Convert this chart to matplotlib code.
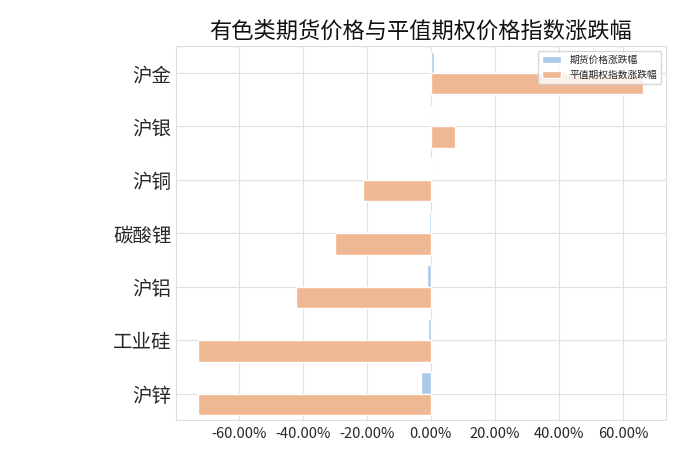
import matplotlib
matplotlib.use("Agg")
import matplotlib.pyplot as plt
import seaborn as sns
import pandas as pd
from matplotlib.ticker import FuncFormatter

categories = ["沪金", "沪银", "沪铜", "碳酸锂", "沪铝", "工业硅", "沪锌"]
futures_change = [0.010, 0.002, -0.003, -0.005, -0.011, -0.008, -0.031]
option_index_change = [0.664, 0.075, -0.211, -0.300, -0.422, -0.727, -0.727]
series_names = ["期货价格涨跌幅", "平值期权指数涨跌幅"]
title = "有色类期货价格与平值期权价格指数涨跌幅"

sns.set_theme(style="whitegrid", palette="pastel")
plt.rcParams["font.family"] = ["Noto Sans CJK SC", "DejaVu Sans"]
plt.rcParams["axes.unicode_minus"] = False

df = pd.DataFrame({
    "品种": categories * 2,
    "涨跌幅": futures_change + option_index_change,
    "类型": [series_names[0]] * len(categories) + [series_names[1]] * len(categories),
})

fig = plt.figure(figsize=(7, 4.67), dpi=100)
ax = fig.add_axes([0.251, 0.10, 0.700, 0.801])
sns.barplot(data=df, y="品种", x="涨跌幅", hue="类型", hue_order=series_names,
            order=categories, orient="h", ax=ax)
ax.set_xlabel("")
ax.set_ylabel("")
ax.xaxis.set_major_formatter(FuncFormatter(lambda v, p: f"{v*100:.2f}%"))
ax.tick_params(axis="y", labelsize=14, pad=3, length=0)
ax.tick_params(axis="x", labelsize=10.5, pad=5, length=0)
ax.grid(True, axis="both", color="#e0e0e0", linewidth=0.8)
ax.set_axisbelow(True)
for s in ax.spines.values():
    s.set_color("#dddddd")
    s.set_linewidth(0.8)
ax.set_title(title, fontsize=16, color="#111111")
ax.legend(loc="upper right", fontsize=7, title=None)
fig.savefig("out.png", dpi=100)
